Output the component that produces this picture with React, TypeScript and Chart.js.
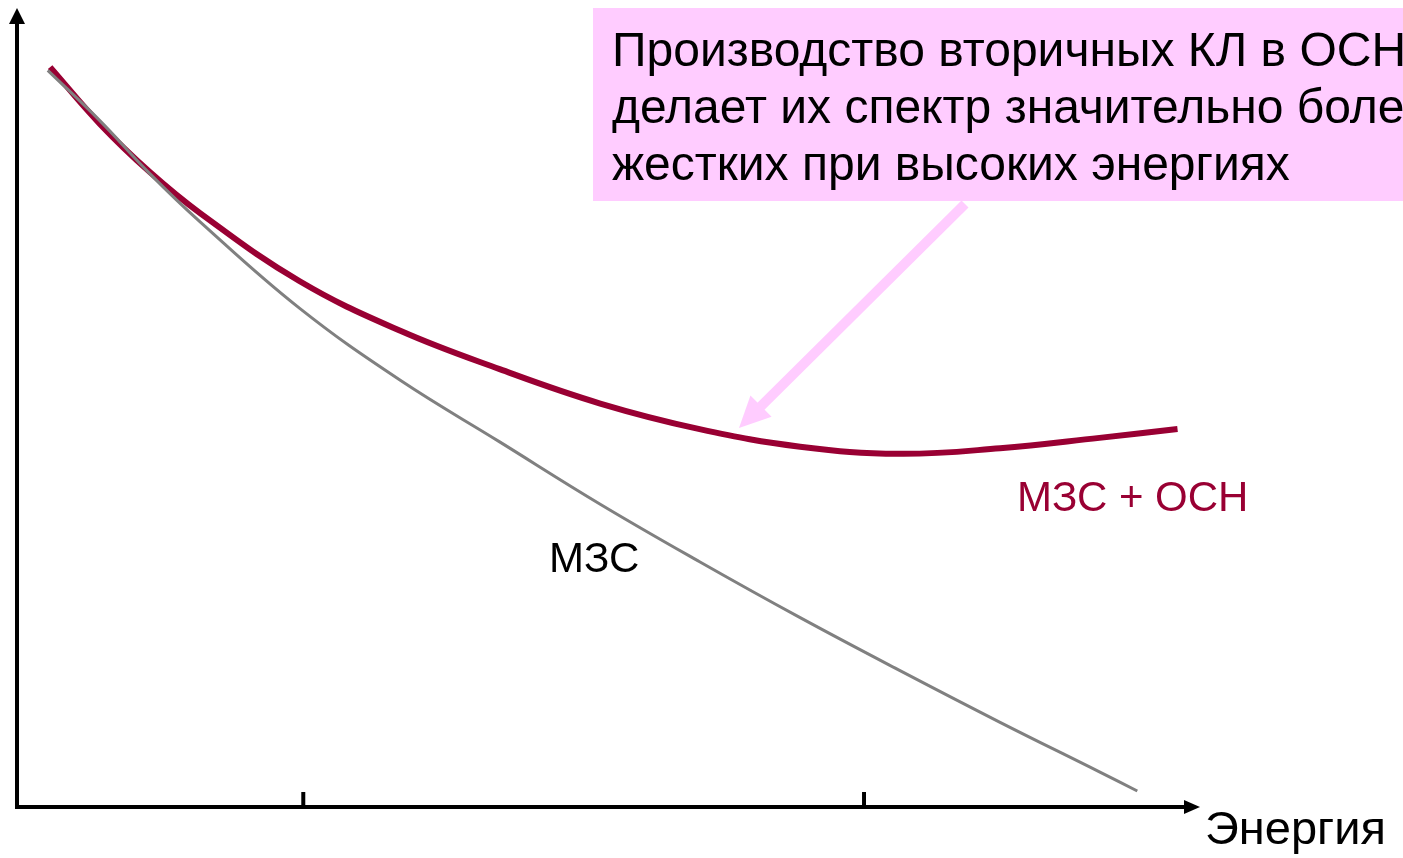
import React, { useEffect, useRef } from "react";
import { Chart, registerables } from "chart.js";
Chart.register(...registerables);

// Energy (x) and flux (y) in arbitrary units
const mzsOsnEnergy = [2.8, 7.0, 11.2, 15.5, 23.9, 32.4, 40.8, 49.3, 57.7, 66.2, 74.6, 83.1, 91.5, 98.1];
const mzsOsnFlux = [92.6, 85.5, 79.5, 74.3, 65.8, 59.6, 54.8, 50.5, 47.3, 45.1, 44.2, 44.9, 46.2, 47.3];
const mzsEnergy = [2.6, 7.0, 11.2, 15.5, 23.9, 32.4, 40.8, 49.3, 57.7, 66.2, 74.6, 83.1, 91.5, 94.7];
const mzsFlux = [92.2, 85.9, 79.3, 73.2, 62.4, 53.4, 45.7, 37.9, 30.7, 23.7, 17.1, 10.6, 4.4, 2.0];
const xTickMarks = [24.2, 71.6];

const seriesLabels = ["МЗС + ОСН", "МЗС"];
const axisLabel = "Энергия";
const noteLines = [
  "Производство вторичных КЛ в ОСН",
  "делает их спектр значительно более",
  "жестких при высоких энергиях",
];

const RED = "#990033";
const GRAY = "#808080";
const PINK = "#FFCCFF";
const FONT = "'Liberation Sans', Arial, sans-serif";

const decorPlugin = {
  id: "decor",
  beforeDatasetsDraw(chart: any) {
    const { ctx, chartArea, scales } = chart;
    const x0 = scales.x.getPixelForValue(0);
    const y0 = scales.y.getPixelForValue(0);
    ctx.save();
    ctx.strokeStyle = "#000";
    ctx.fillStyle = "#000";
    ctx.lineWidth = 4;
    ctx.lineCap = "butt";
    // y axis
    ctx.beginPath();
    ctx.moveTo(x0, y0 + 2);
    ctx.lineTo(x0, chartArea.top + 14);
    ctx.stroke();
    ctx.beginPath();
    ctx.moveTo(x0, chartArea.top);
    ctx.lineTo(x0 - 8, chartArea.top + 16);
    ctx.lineTo(x0 + 8, chartArea.top + 16);
    ctx.closePath();
    ctx.fill();
    // x axis
    ctx.beginPath();
    ctx.moveTo(x0 - 2, y0);
    ctx.lineTo(chartArea.right - 14, y0);
    ctx.stroke();
    ctx.beginPath();
    ctx.moveTo(chartArea.right, y0);
    ctx.lineTo(chartArea.right - 16, y0 - 7);
    ctx.lineTo(chartArea.right - 16, y0 + 7);
    ctx.closePath();
    ctx.fill();
    // tick marks
    for (const t of xTickMarks) {
      const px = scales.x.getPixelForValue(t);
      ctx.beginPath();
      ctx.moveTo(px, y0);
      ctx.lineTo(px, y0 - 15);
      ctx.stroke();
    }
    ctx.restore();
  },
  afterDatasetsDraw(chart: any) {
    const { ctx, chartArea } = chart;
    const L = chartArea.left;
    const T = chartArea.top;
    ctx.save();
    // note box
    ctx.fillStyle = PINK;
    ctx.fillRect(L + 576, T, 900, 193);
    // pink arrow
    const sx = L + 948, sy = T + 196;
    const tx = L + 722, ty = T + 420;
    const ang = Math.atan2(ty - sy, tx - sx);
    const headLen = 31, headHalf = 15;
    const bx = tx - Math.cos(ang) * headLen, by = ty - Math.sin(ang) * headLen;
    ctx.strokeStyle = PINK;
    ctx.lineWidth = 10;
    ctx.beginPath();
    ctx.moveTo(sx, sy);
    ctx.lineTo(bx + Math.cos(ang) * 4, by + Math.sin(ang) * 4);
    ctx.stroke();
    ctx.beginPath();
    ctx.moveTo(tx, ty);
    ctx.lineTo(bx - Math.sin(ang) * headHalf, by + Math.cos(ang) * headHalf);
    ctx.lineTo(bx + Math.sin(ang) * headHalf, by - Math.cos(ang) * headHalf);
    ctx.closePath();
    ctx.fillStyle = PINK;
    ctx.fill();
    // note text
    ctx.fillStyle = "#000";
    ctx.font = `48px ${FONT}`;
    ctx.textBaseline = "alphabetic";
    ctx.textAlign = "left";
    noteLines.forEach((line, i) => {
      ctx.fillText(line, L + 595, T + 58 + i * 57);
    });
    // labels
    ctx.font = `42px ${FONT}`;
    ctx.fillStyle = "#000";
    ctx.fillText(seriesLabels[1], L + 532, T + 564);
    ctx.fillStyle = RED;
    ctx.fillText(seriesLabels[0], L + 1000, T + 503);
    ctx.fillStyle = "#000";
    ctx.font = `47px ${FONT}`;
    ctx.fillText(axisLabel, L + 1188, T + 836);
    ctx.restore();
  },
};

export default function App() {
  const ref = useRef<HTMLCanvasElement | null>(null);
  useEffect(() => {
    if (!ref.current) return;
    const chart = new Chart(ref.current, {
      type: "line",
      data: {
        datasets: [
          {
            label: seriesLabels[1],
            data: mzsEnergy.map((x, i) => ({ x, y: mzsFlux[i] })),
            borderColor: GRAY,
            borderWidth: 3,
            pointRadius: 0,
            tension: 0.4,
            fill: false,
          },
          {
            label: seriesLabels[0],
            data: mzsOsnEnergy.map((x, i) => ({ x, y: mzsOsnFlux[i] })),
            borderColor: RED,
            borderWidth: 6,
            pointRadius: 0,
            tension: 0.4,
            fill: false,
          },
        ],
      },
      options: {
        animation: false,
        responsive: false,
        events: [],
        layout: { padding: { left: 17, right: 203, top: 8, bottom: 51 } },
        plugins: { legend: { display: false }, tooltip: { enabled: false }, title: { display: false } },
        scales: {
          x: { type: "linear", min: 0, max: 100, display: false },
          y: { type: "linear", min: 0, max: 100, display: false },
        },
      },
      plugins: [decorPlugin],
    } as any);
    return () => chart.destroy();
  }, []);
  return (
    <div style={{ position: "absolute", left: 0, top: 0, width: 1403, height: 858, background: "#fff" }}>
      <canvas ref={ref} width={1403} height={858} style={{ display: "block", width: 1403, height: 858 }} />
    </div>
  );
}
